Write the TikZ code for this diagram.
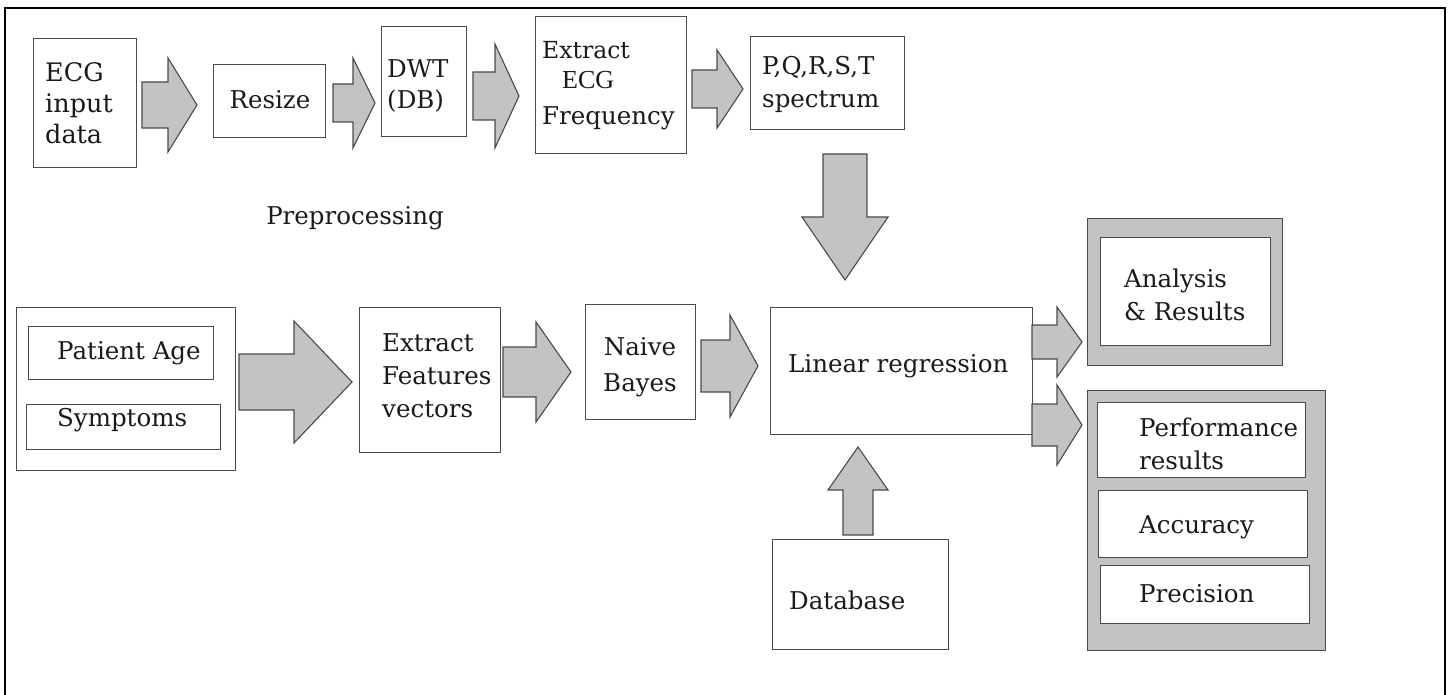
\documentclass[tikz,border=0pt]{standalone}
\usepackage{tikz}
\usepackage{fontspec}
\setmainfont{DejaVu Serif}
\newfontfamily\ecgfont{Liberation Serif}
\definecolor{boxline}{HTML}{4A4A4A}
\definecolor{arrowfill}{HTML}{C3C3C3}
\definecolor{txtcol}{HTML}{1A1A1A}
\newcommand{\fsz}{\fontsize{24.5}{33}\selectfont}
\newcommand{\harr}[7]{% name, x0, xb, xt, yc, shaft half, head half
  \draw[blockarrow] (#2,#5-#6) -- (#3,#5-#6) -- (#3,#5-#7) -- (#4,#5) -- (#3,#5+#7) -- (#3,#5+#6) -- (#2,#5+#6) -- cycle;
  \coordinate (#1) at (#4,#5);}
\tikzset{
  box/.style={draw=boxline, line width=1.3pt, fill=white, anchor=north west, inner sep=0pt},
  graybox/.style={draw=boxline, line width=1.3pt, fill=arrowfill, anchor=north west, inner sep=0pt},
  blockarrow/.style={draw=boxline, line width=1.1pt, fill=arrowfill, line join=miter},
  txt/.style={anchor=west, inner sep=0pt, align=left, font=\fsz, text=txtcol},
  ctxt/.style={anchor=center, inner sep=0pt, align=center, font=\fsz, text=txtcol},
}
\begin{document}
\begin{tikzpicture}[x=1pt,y=-1pt]
\useasboundingbox (0,0) rectangle (1449,695);
\fill[white] (0,0) rectangle (1449,695);
% outer frame (open at bottom)
\draw[black, line width=2pt] (5,695) -- (5,8) -- (1445,8) -- (1445,695);

% ---------- top row ----------
\node[box, minimum width=103, minimum height=129] (ecg) at (33,38) {};
\node[txt, font=\fontsize{25.5}{31}\selectfont] (ecgt) at (45,103) {ECG\\input\\data};

\node[box, minimum width=112, minimum height=73] (resize) at (213,64) {};
\node[ctxt] (resizet) at (270,100) {Resize};

\node[box, minimum width=85, minimum height=110] (dwt) at (381,26) {};
\node[txt, font=\fontsize{24.5}{31}\selectfont] (dwtt) at (387,86) {DWT\\(DB)};

\node[box, minimum width=151, minimum height=137] (efreq) at (535,16) {};
\node[txt, font=\fontsize{23.5}{28}\selectfont] (efreq1) at (542,50) {Extract};
\node[txt, font=\ecgfont\fontsize{26}{28}\selectfont] (efreq2) at (562,80) {ECG};
\node[txt] (efreq3) at (542,118) {Frequency};

\node[box, minimum width=154, minimum height=93] (pqrst) at (750,36) {};
\node[txt] (pqrstt) at (762,84) {P,Q,R,S,T\\spectrum};

\node[font=\fsz, text=txtcol, inner sep=0pt] (prep) at (355,218) {Preprocessing};

% ---------- bottom row ----------
\node[box, minimum width=219, minimum height=163] (patient) at (16,307) {};
\node[box, minimum width=185, minimum height=53] (age) at (28,326) {};
\node[txt] (aget) at (57,353) {Patient Age};
\node[box, minimum width=194, minimum height=45] (sym) at (26,404) {};
\node[txt] (symt) at (57,420) {Symptoms};

\node[box, minimum width=141, minimum height=145] (feat) at (359,307) {};
\node[txt] (featt) at (382,376) {Extract\\Features\\vectors};

\node[box, minimum width=110, minimum height=115] (nb) at (585,304) {};
\node[ctxt, font=\fontsize{24.5}{36}\selectfont] (nbt) at (640,367) {Naive\\Bayes};

\node[box, minimum width=262, minimum height=127] (lr) at (770,307) {};
\node[txt] (lrt) at (788,366) {Linear regression};

\node[box, minimum width=176, minimum height=110] (db) at (772,539) {};
\node[txt] (dbt) at (789,600) {Database};

% ---------- results ----------
\node[graybox, minimum width=195, minimum height=147] (anaout) at (1087,218) {};
\node[box, minimum width=170, minimum height=108] (ana) at (1100,237) {};
\node[txt] (anat) at (1124,295) {Analysis\\\&~Results};

\node[graybox, minimum width=238, minimum height=260] (perfout) at (1087,390) {};
\node[box, minimum width=208, minimum height=75] (perf) at (1097,402) {};
\node[txt] (perft) at (1139,444) {Performance\\results};
\node[box, minimum width=209, minimum height=67] (acc) at (1098,490) {};
\node[txt] (acct) at (1139,527) {Accuracy};
\node[box, minimum width=209, minimum height=58] (prec) at (1100,565) {};
\node[txt] (prect) at (1139,594) {Precision};

% ---------- block arrows ----------
\harr{a1}{142}{168}{197}{105}{23}{47}
\harr{a2}{333}{353}{375}{103}{19}{45}
\harr{a3}{473}{495}{519}{96}{24}{52}
\harr{a4}{692}{717}{743}{89}{19}{39}
\harr{b1}{239}{294}{352}{382}{28}{61}
\harr{b2}{503}{536}{571}{372}{25}{50}
\harr{b3}{701}{730}{758}{366}{26}{51}
\harr{r1}{1032}{1057}{1082}{342}{17}{35}
\harr{r2}{1032}{1057}{1082}{425}{21}{40}
% down arrow from spectrum to linear regression
\draw[blockarrow] (823,154) -- (867,154) -- (867,217) -- (888,217) -- (845,280) -- (802,217) -- (823,217) -- cycle;
% up arrow from database to linear regression
\draw[blockarrow] (843,535) -- (873,535) -- (873,490) -- (888,490) -- (858,447) -- (828,490) -- (843,490) -- cycle;
\end{tikzpicture}
\end{document}
